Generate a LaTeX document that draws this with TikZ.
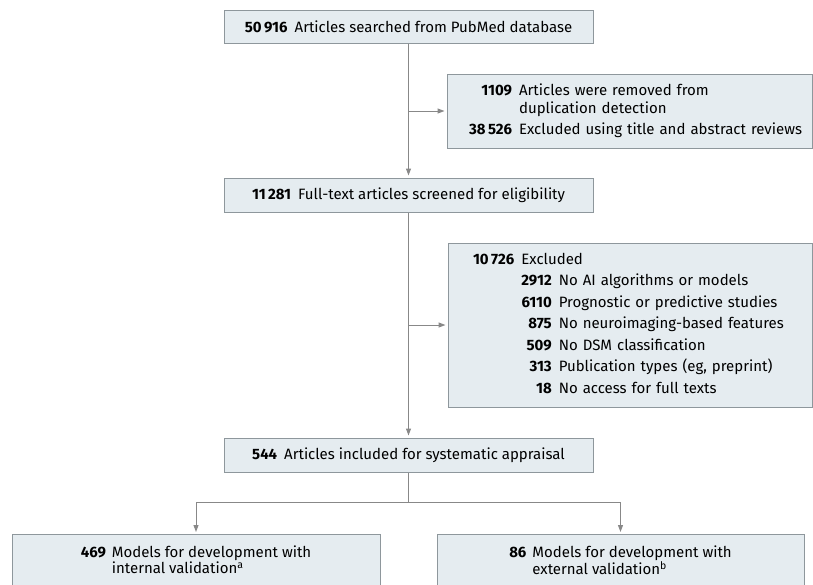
\documentclass[tikz,border=0pt]{standalone}
\usepackage{fontspec}
\setmainfont{Fira Sans}
\usetikzlibrary{arrows.meta}
\definecolor{boxfill}{HTML}{E5ECF0}
\definecolor{boxline}{HTML}{8E979C}
\definecolor{linkline}{HTML}{888888}
\begin{document}
\begin{tikzpicture}[x = 1pt, y = -1pt,
        box/.style = {draw = boxline, fill = boxfill, line width = 1pt, inner sep = 0pt, align = center,
            font = \fontsize{15}{18.5}\selectfont},
        sidebox/.style = {box, align = left},
        lowbox/.style = {box, anchor = north, minimum width = 368pt, inner ysep = 11pt,
            font = \fontsize{15}{15.5}\selectfont},
        link/.style = {draw = linkline, line width = 1pt},
        arr/.style = {link, -{Triangle[length = 7pt, width = 5pt]}, shorten > = 2pt}]
        \clip (0, 0) rectangle (813, 584);
        \node[box, minimum width = 369pt, minimum height = 33pt] (search) at (408.5, 26.5)
            {\textbf{50\,916}\hspace{7pt}Articles searched from PubMed database};
        \node[sidebox, inner xsep = 22pt, text width = 321pt, minimum height = 74pt] (dup) at (629.5, 111)
            {\begin{tabular}{@{}r@{\hspace{7pt}}l@{}}
                \textbf{1109} & Articles were removed from \\
                 & duplication detection \\[2pt]
                \textbf{38\,526} & Excluded using title and abstract reviews
            \end{tabular}};
        \node[box, minimum width = 369pt, minimum height = 34pt] (screen) at (408.5, 195)
            {\textbf{11\,281}\hspace{7pt}Full-text articles screened for eligibility};
        \node[sidebox, inner xsep = 25pt, text width = 314pt, minimum height = 164pt] (excl) at (630, 325)
            {\begin{tabular}{@{}r@{\hspace{7pt}}r@{\hspace{7pt}}l@{}}
                \textbf{10\,726} & \multicolumn{2}{@{}l@{}}{Excluded} \\[3pt]
                 & \textbf{2912} & No AI algorithms or models \\[3pt]
                 & \textbf{6110} & Prognostic or predictive studies \\[3pt]
                 & \textbf{875} & No neuroimaging-based features \\[3pt]
                 & \textbf{509} & No DSM classification \\[3pt]
                 & \textbf{313} & Publication types (eg, preprint) \\[3pt]
                 & \textbf{18} & No access for full texts
            \end{tabular}};
        \node[box, minimum width = 369pt, minimum height = 34pt] (incl) at (408.5, 455)
            {\textbf{544}\hspace{7pt}Articles included for systematic appraisal};
        \node[lowbox] (intv) at (196, 534)
            {\begin{tabular}{@{}r@{\hspace{6pt}}l@{}}
                \textbf{469} & Models for development with \\
                 & internal validation\textsuperscript{a}
            \end{tabular}};
        \node[lowbox, minimum width = 367pt] (extv) at (620.5, 534)
            {\begin{tabular}{@{}r@{\hspace{6pt}}l@{}}
                \textbf{86} & Models for development with \\
                 & external validation\textsuperscript{b}
            \end{tabular}};
        \coordinate (split) at (408.5, 502);
        \draw[arr] (search) -- (screen);
        \draw[arr] (search.south |- dup.west) -- (dup.west);
        \draw[arr] (screen) -- (incl);
        \draw[arr] (screen.south |- excl.west) -- (excl.west);
        \draw[link] (incl) -- (split);
        \draw[arr] (split) -| (intv);
        \draw[arr] (split) -| (extv);
    \end{tikzpicture}
\end{document}
